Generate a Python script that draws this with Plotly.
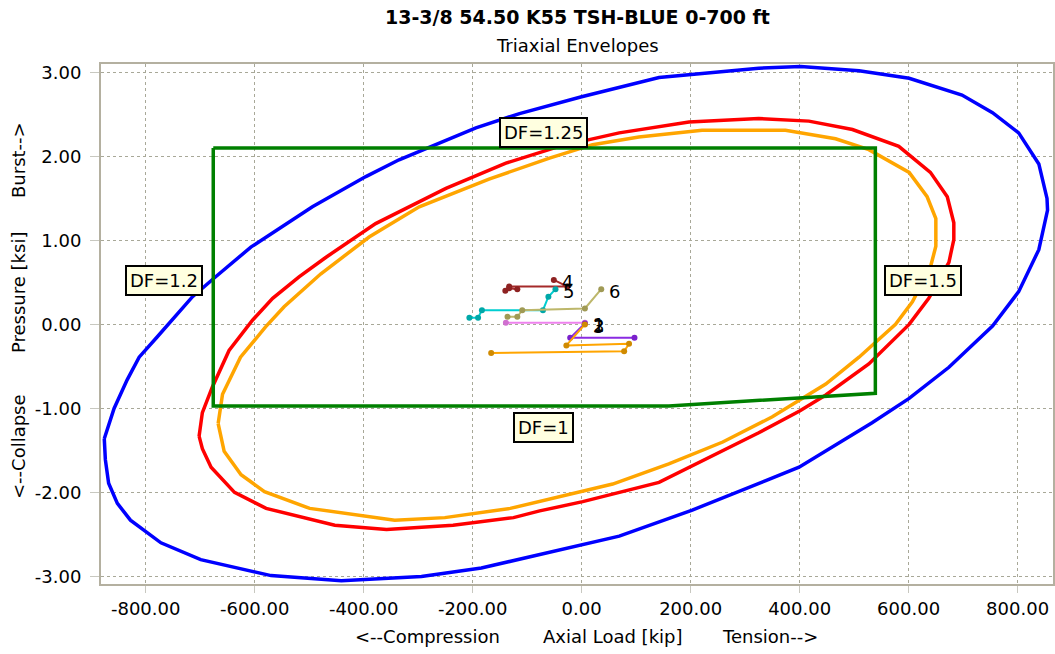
import plotly.graph_objects as go

# ---------------- data ----------------
blue_x = [-876, -858, -834, -812, -779, -714, -671, -607, -494, -396, -335, -274, -194, -114, 0,
          142, 252, 325, 402, 509, 601, 698, 754, 802, 839, 854, 855, 839, 802, 754, 674, 601,
          533, 472, 399, 338, 203, 69, -12, -78, -184, -294, -441, -570, -699, -772, -828, -852,
          -868, -874, -876]
blue_y = [-1.36, -1.00, -0.66, -0.39, -0.15, 0.33, 0.57, 0.92, 1.40, 1.76, 1.96, 2.12, 2.34, 2.51, 2.71,
          2.94, 3.01, 3.05, 3.07, 3.02, 2.93, 2.73, 2.52, 2.28, 1.91, 1.50, 1.36, 0.89, 0.39, -0.02, -0.51, -0.88,
          -1.17, -1.41, -1.70, -1.86, -2.21, -2.52, -2.64, -2.74, -2.90, -3.00, -3.05, -2.99, -2.80, -2.60, -2.33, -2.13,
          -1.89, -1.61, -1.36]

red_x = [-702, -696, -678, -647, -604, -567, -518, -469, -378, -249, -139, -41, 69, 197, 325, 417, 497,
         582, 640, 671, 683, 683, 674, 637, 601, 527, 448, 400, 325, 228, 142, 2, -77, -125, -236,
         -358, -453, -579, -637, -680, -696, -702]
red_y = [-1.33, -1.05, -0.75, -0.31, 0.05, 0.31, 0.57, 0.80, 1.20, 1.62, 1.92, 2.12, 2.28, 2.41, 2.45, 2.42, 2.32,
         2.12, 1.81, 1.52, 1.21, 1.01, 0.74, 0.31, 0.00, -0.47, -0.84, -1.03, -1.29, -1.60, -1.88, -2.11, -2.22, -2.30, -2.39,
         -2.44, -2.39, -2.19, -2.00, -1.70, -1.48, -1.33]

orange_x = [-667, -659, -626, -580, -546, -479, -390, -298, -170, -59, 20, 105, 221, 374, 466, 527,
            601, 634, 650, 650, 640, 607, 576, 509, 448, 350, 259, 160, 57, -42, -131, -251, -343,
            -499, -582, -625, -656, -667]
orange_y = [-1.18, -0.83, -0.39, -0.03, 0.21, 0.60, 1.04, 1.40, 1.73, 1.98, 2.14, 2.23, 2.31, 2.31, 2.21, 2.08,
            1.81, 1.52, 1.26, 0.93, 0.68, 0.27, 0.00, -0.39, -0.71, -1.10, -1.40, -1.66, -1.90, -2.05, -2.19, -2.30, -2.33,
            -2.19, -1.99, -1.79, -1.51, -1.18]

green_x = [-676, 539, 539, 160, -676, -676]
green_y = [2.10, 2.10, -0.82, -0.97, -0.97, 2.10]

load_names = ["1", "2", "3", "4", "5", "6"]
load_x = [
    [6, -139],
    [6, -21, 97],
    [6, -28, 87, 78, -166],
    [-51, -26, -133, -140, -133, -118],
    [-48, -61, -71, -183, -190, -206],
    [36, 6, -109, -118, -136],
]
load_y = [
    [0.02, 0.02],
    [0.01, -0.16, -0.16],
    [0.00, -0.25, -0.23, -0.32, -0.34],
    [0.53, 0.45, 0.45, 0.40, 0.43, 0.42],
    [0.42, 0.33, 0.17, 0.17, 0.08, 0.08],
    [0.42, 0.19, 0.17, 0.09, 0.09],
]
load_line_colors = ["#EE82EE", "#8A2BE2", "#FFA500", "#A52A2A", "#00CED1", "#BDB76B"]
load_marker_colors = ["#D070D0", "#7A20CC", "#D08A00", "#8E2222", "#00A8A8", "#A09A55"]

df_labels = ["DF=1.25", "DF=1.2", "DF=1.5", "DF=1"]
df_x = [-70, -767, 627, -70]
df_y = [2.28, 0.52, 0.52, -1.23]

x_ticks = [-800, -600, -400, -200, 0, 200, 400, 600, 800]
y_ticks = [-3, -2, -1, 0, 1, 2, 3]
x_ticktext = ["%.2f" % v for v in x_ticks]
y_ticktext = ["%.2f" % v for v in y_ticks]

FONT = "'DejaVu Sans', Verdana, sans-serif"

fig = go.Figure()
for xs, ys, col in [(blue_x, blue_y, "#0000FF"), (red_x, red_y, "#FF0000"),
                    (orange_x, orange_y, "#FFA500"), (green_x, green_y, "#008000")]:
    fig.add_trace(go.Scatter(x=xs, y=ys, mode="lines", line=dict(color=col, width=3.5),
                             showlegend=False, hoverinfo="skip"))

for name, xs, ys, lc, mc in zip(load_names, load_x, load_y, load_line_colors, load_marker_colors):
    fig.add_trace(go.Scatter(x=xs, y=ys, mode="lines+markers", name=name,
                             line=dict(color=lc, width=2),
                             marker=dict(color=mc, size=6),
                             showlegend=False))

annotations = []
for name, xs, ys in reversed(list(zip(load_names, load_x, load_y))):
    annotations.append(dict(x=xs[0], y=ys[0], xref="x", yref="y", text=name, showarrow=False,
                            xanchor="left", yanchor="middle", xshift=6, yshift=-2,
                            font=dict(family=FONT, size=18, color="black")))

for t, x, y in zip(df_labels, df_x, df_y):
    annotations.append(dict(x=x, y=y, xref="x", yref="y", text=t, showarrow=False,
                            font=dict(family=FONT, size=18, color="black"),
                            bgcolor="#FFFFE0", bordercolor="black", borderwidth=2, borderpad=3))

# titles (pixel positions, converted below)
annotations.append(dict(x=577, y=654 - 17, xref="paper", yref="paper", text="<b>13-3/8 54.50 K55 TSH-BLUE 0-700 ft</b>",
                        showarrow=False, font=dict(family=FONT, size=19, color="black"),
                        xanchor="center", yanchor="middle"))
annotations.append(dict(x=577, y=654 - 46, xref="paper", yref="paper", text="Triaxial Envelopes",
                        showarrow=False, font=dict(family=FONT, size=18, color="black"),
                        xanchor="center", yanchor="middle"))
# axis titles
for t, xc in [("&lt;--Compression", 427), ("Axial Load [kip]", 613), ("Tension--&gt;", 770)]:
    annotations.append(dict(x=xc, y=654 - 636, xref="paper", yref="paper", text=t, showarrow=False,
                            font=dict(family=FONT, size=18, color="black"), xanchor="center", yanchor="middle"))
for t, yc in [("&lt;--Collapse", 447), ("Pressure [ksi]", 293), ("Burst--&gt;", 160)]:
    annotations.append(dict(x=18, y=654 - yc, xref="paper", yref="paper", text=t, showarrow=False, textangle=-90,
                            font=dict(family=FONT, size=18, color="black"), xanchor="center", yanchor="middle"))

L, R, T, B = 101, 2, 64, 70
W, H = 1055, 654
pw, ph = W - L - R, H - T - B
for a in annotations:
    if a["xref"] == "paper":
        a["x"] = (a["x"] - L) / pw
        a["y"] = (a["y"] - B) / ph

axis_common = dict(showgrid=True, gridcolor="#A8A898", griddash="dot", gridwidth=1,
                   zeroline=False, showline=True, linecolor="#B4B0A0", linewidth=2, mirror=True,
                   ticks="outside", tickcolor="#C8C8C0", tickwidth=1,
                   tickfont=dict(family=FONT, size=18, color="black"))

fig.update_layout(
    width=W, height=H,
    margin=dict(l=L, r=R, t=T, b=B, autoexpand=False),
    paper_bgcolor="white", plot_bgcolor="white",
    annotations=annotations,
    font=dict(family=FONT, size=18, color="black"),
    xaxis=dict(range=[-882, 865], tickvals=x_ticks, ticktext=x_ticktext, ticklen=7, ticklabelstandoff=0,
               **axis_common),
    yaxis=dict(range=[-3.09, 3.10], tickvals=y_ticks, ticktext=y_ticktext, ticklen=9, ticklabelstandoff=5,
               **axis_common),
)

fig.write_html("out.html", config={"displayModeBar": False},
               post_script="document.body.style.margin='0';document.body.style.overflow='hidden';")
